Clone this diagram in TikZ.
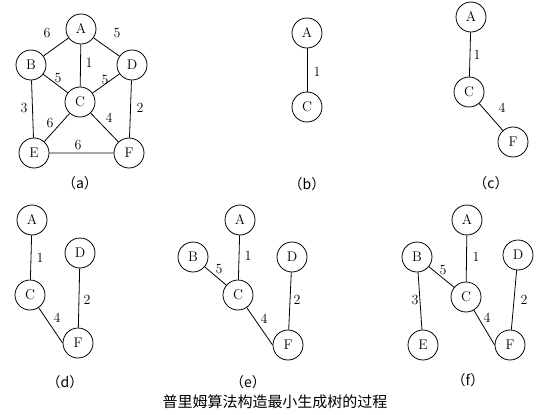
\documentclass[tikz,border=0pt]{standalone}
\usepackage{fontspec}
\newfontfamily\cjk{Noto Sans CJK SC}
\begin{document}
\begin{tikzpicture}[x=1pt,y=-1pt,
  vtx/.style={circle,draw,line width=0.8pt,minimum size=30pt,inner sep=0pt,font=\rmfamily\fontsize{14}{14}\selectfont},
  lab/.style={inner sep=0pt,font=\rmfamily\fontsize{14}{14}\selectfont},
  capt/.style={inner sep=0pt,font=\rmfamily\fontsize{14}{14}\selectfont},
  conn/.style={line width=0.8pt}]
\useasboundingbox (0,0) rectangle (550,415);
% (a)
\node[vtx] (aA) at (81,29) {A};
\node[vtx] (aB) at (31,65) {B};
\node[vtx] (aD) at (132,65) {D};
\node[vtx] (aC) at (80,102) {C};
\node[vtx] (aE) at (34,153) {E};
\node[vtx] (aF) at (129,153) {F};
\draw[conn] (aA)--(aB) (aA)--(aD) (aA)--(aC) (aB)--(aC) (aD)--(aC)
  (aB)--(aE) (aD)--(aF) (aC)--(aE) (aC)--(aF) (aE)--(aF);
\node[lab] (aLab1) at (47,33) {6};
\node[lab] (aLab2) at (117,33) {5};
\node[lab] (aLab3) at (89,63) {1};
\node[lab] (aLab4) at (58,78) {5};
\node[lab] (aLab5) at (105,80) {5};
\node[lab] (aLab6) at (24,108) {3};
\node[lab] (aLab7) at (140,108) {2};
\node[lab] (aLab8) at (50,123) {6};
\node[lab] (aLab9) at (109,118) {4};
\node[lab] (aLab10) at (78,145) {6};
\node[capt] (aCap) at (80,183) {\cjk{（}a\cjk{）}};
% (b)
\node[vtx] (bA) at (307,33) {A};
\node[vtx] (bC) at (307,107) {C};
\draw[conn] (bA)--(bC);
\node[lab] (bLab1) at (317,72) {1};
\node[capt] (bCap) at (307,184) {\cjk{（}b\cjk{）}};
% (c)
\node[vtx] (cA) at (471,17) {A};
\node[vtx] (cC) at (469,92) {C};
\node[vtx] (cF) at (513,142) {F};
\draw[conn] (cA)--(cC) (cC)--(cF);
\node[lab] (cLab1) at (477,55) {1};
\node[lab] (cLab2) at (502,108) {4};
\node[capt] (cCap) at (491,183) {\cjk{（}c\cjk{）}};
% (d)
\node[vtx] (dA) at (32,220) {A};
\node[vtx] (dC) at (30,295) {C};
\node[vtx] (dD) at (80,253) {D};
\node[vtx] (dF) at (78,343) {F};
\draw[conn] (dA)--(dC) (dC)--(dF.west) (dD)--(dF);
\node[lab] (dLab1) at (40,258) {1};
\node[lab] (dLab2) at (87,300) {2};
\node[lab] (dLab3) at (57,318) {4};
\node[capt] (dCap) at (65,382) {\cjk{（}d\cjk{）}};
% (e)
\node[vtx] (eA) at (240,220) {A};
\node[vtx] (eB) at (193,257) {B};
\node[vtx] (eC) at (238,295) {C};
\node[vtx] (eD) at (292,257) {D};
\node[vtx] (eF) at (288,345) {F};
\draw[conn] (eA)--(eC) (eB)--(eC) (eC)--(eF.west) (eD)--(eF);
\node[lab] (eLab1) at (248,256) {1};
\node[lab] (eLab2) at (219,269) {5};
\node[lab] (eLab3) at (264,319) {4};
\node[lab] (eLab4) at (297,300) {2};
\node[capt] (eCap) at (248,382) {\cjk{（}e\cjk{）}};
% (f)
\node[vtx] (fA) at (467,220) {A};
\node[vtx] (fB) at (417,257) {B};
\node[vtx] (fD) at (518,255) {D};
\node[vtx] (fC) at (466,297) {C};
\node[vtx] (fE) at (423,345) {E};
\node[vtx] (fF) at (510,345) {F};
\draw[conn] (fA)--(fC) (fB)--(fC) (fB)--(fE) (fC)--(fF.west) (fD)--(fF);
\node[lab] (fLab1) at (476,257) {1};
\node[lab] (fLab2) at (443,270) {5};
\node[lab] (fLab3) at (415,300) {3};
\node[lab] (fLab4) at (487,318) {4};
\node[lab] (fLab5) at (524,300) {2};
\node[capt] (fCap) at (468,380) {\cjk{（}f\cjk{）}};
% title
\node[inner sep=0pt,font=\cjk\fontsize{15}{15}\selectfont] (title) at (275,402) {普里姆算法构造最小生成树的过程};
\end{tikzpicture}
\end{document}
